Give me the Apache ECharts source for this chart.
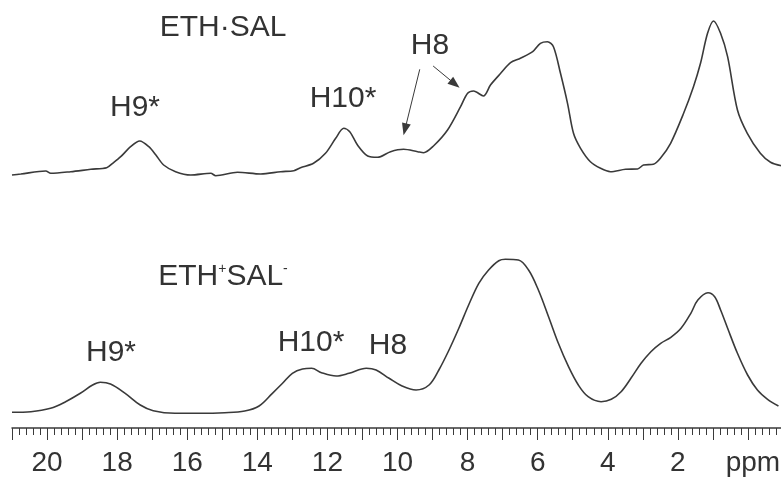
<!DOCTYPE html>
<html>
<head>
<meta charset="utf-8">
<script src="https://cdn.jsdelivr.net/npm/echarts@6/dist/echarts.min.js"></script>
<style>
  html, body { margin: 0; padding: 0; background: #fff; overflow: hidden; }
  /* a little wider than the window so the ppm axis runs off the right edge, like the original */
  #chart { width: 786px; height: 478px; }
</style>
</head>
<body>
<div id="chart"></div>
<script>
// chemical shifts (ppm) and intensities (arb. units)
var ppmTop = [21.0, 20.75, 20.04, 19.9, 19.33, 18.76, 18.31, 18.14, 17.91, 17.63, 17.37, 17.11, 16.91, 16.69, 16.35, 15.92, 15.35, 15.21, 14.59, 13.93,
  13.36, 12.99, 12.8, 12.43, 12.09, 11.8, 11.57, 11.4, 11.18, 10.89, 10.61, 10.24, 9.87, 9.47, 9.3, 9.02, 8.62, 8.25, 8.05, 7.88,
  7.6, 7.4, 7.11, 6.83, 6.55, 6.2, 5.98, 5.78, 5.61, 5.41, 5.21, 5.04, 4.84, 4.56, 4.27, 3.99, 3.56, 3.22, 3.05, 2.77,
  2.57, 2.28, 1.91, 1.63, 1.43, 1.23, 1.06, 0.86, 0.66, 0.38, 0.1, -0.27, -0.56, -0.87];
var intTop = [0, 1, 4, 1.7, 3.3, 5.7, 7.3, 11.7, 18.3, 28.3, 34, 28.3, 20, 10, 3.3, 0, 1.7, -0.7, 2.7, 1,
  3.3, 4.3, 7.3, 11.7, 21.7, 36.7, 46.7, 43.3, 30, 19, 17.7, 23.3, 25.7, 23.3, 22.3, 29, 45, 68.3, 81.7, 84,
  79, 90, 101.7, 112.3, 116.7, 123.3, 131.7, 133.3, 128.3, 101.7, 71.7, 41.7, 26.7, 13.3, 6.7, 3.3, 5.7, 6, 10, 10.7,
  16.7, 31.7, 61.7, 88.3, 111.7, 141.7, 154, 141.7, 118.3, 65, 41.7, 21.7, 12.7, 9.3];

var ppmBottom = [21.0, 20.46, 19.9, 19.47, 19.05, 18.7, 18.48, 18.19, 17.77, 17.34, 16.97, 16.35, 15.64, 14.93, 14.36, 13.95, 13.57, 13.28, 13.0, 12.71,
  12.45, 12.17, 11.75, 11.38, 10.89, 10.61, 10.24, 9.87, 9.47, 9.1, 8.82, 8.53, 8.25, 7.97, 7.68, 7.4, 7.11, 6.92, 6.55, 6.26,
  5.98, 5.69, 5.41, 5.12, 4.84, 4.56, 4.19, 3.9, 3.62, 3.34, 3.05, 2.77, 2.49, 2.2, 1.91, 1.63, 1.43, 1.14, 0.95, 0.78,
  0.58, 0.3, 0.01, -0.27, -0.56, -0.87];
var intBottom = [0.7, 1.3, 4.7, 11.3, 19.7, 28, 30.7, 29, 19.7, 8, 2.3, -0.3, -0.3, 0.3, 2, 7, 19.7, 29.7, 39.7, 44,
  44.7, 40.3, 37, 39.7, 44.7, 43, 34.7, 27, 23, 28, 43, 63, 84.7, 108, 129.7, 143, 152.3, 153.7, 153, 143,
  123, 96.3, 69.7, 46.3, 28, 16.3, 11.3, 13.7, 21.3, 34.7, 49.7, 61.3, 69.7, 75.7, 84.7, 99.7, 113, 120.3, 116.3, 103,
  84.7, 59.7, 38, 23, 13.7, 7];

// arrows pointing at H8 in the upper trace: [fromPpm, fromInt, toPpm, toInt]
var arrowsTop = [[9.41, 105.7, 9.83, 45.7], [9.03, 109, 8.41, 91]];

function pairs(xs, ys) {
  return xs.map(function (x, i) { return [x, ys[i]]; });
}

var ink = '#3a3a3a';
var font = 'Liberation Sans, Arial, sans-serif';

var chart = echarts.init(document.getElementById('chart'));

function label(text, x, y) {
  return { type: 'text', x: x, y: y, style: { text: text, font: '30px ' + font, fill: '#333', align: 'center', verticalAlign: 'middle' } };
}

var option = {
  animation: false,
  backgroundColor: '#fff',
  grid: [
    { left: 12, right: 0, top: 0, height: 190 },
    { left: 12, right: 0, top: 240, bottom: 50 }
  ],
  xAxis: [
    { gridIndex: 0, type: 'value', inverse: true, min: -1, max: 21, show: false },
    {
      gridIndex: 1, type: 'value', inverse: true, min: -1, max: 21, interval: 1,
      axisLine: { onZero: false, lineStyle: { color: ink, width: 1.5 } },
      axisTick: { length: 12, lineStyle: { color: ink, width: 1 } },
      minorTick: { show: true, splitNumber: 5, length: 7, lineStyle: { color: ink, width: 1 } },
      splitLine: { show: false },
      axisLabel: {
        margin: 21, color: '#333', fontSize: 28, fontFamily: font,
        showMinLabel: true, showMaxLabel: true,
        rich: { u: { fontSize: 28, fontFamily: font, color: '#333', padding: [0, 0, 0, 10] } },
        formatter: function (v) {
          if (v === 0) return '{u|ppm}';
          if (v > 0 && v % 2 === 0) return String(v);
          return '';
        }
      }
    }
  ],
  yAxis: [
    { gridIndex: 0, type: 'value', min: -15, max: 175, show: false },
    { gridIndex: 1, type: 'value', min: -15, max: 173, show: false }
  ],
  series: [
    {
      name: 'ETH·SAL', type: 'line', xAxisIndex: 0, yAxisIndex: 0,
      data: pairs(ppmTop, intTop), showSymbol: false, smooth: 0.3,
      lineStyle: { color: ink, width: 1.6 },
      markLine: {
        silent: true, symbol: ['none', 'triangle'], symbolSize: [9, 12],
        label: { show: false },
        lineStyle: { color: ink, width: 1, type: 'solid' },
        data: arrowsTop.map(function (a) {
          return [{ coord: [a[0], a[1]] }, { coord: [a[2], a[3]] }];
        })
      }
    },
    {
      name: 'ETH+SAL-', type: 'line', xAxisIndex: 1, yAxisIndex: 1,
      data: pairs(ppmBottom, intBottom), showSymbol: false, smooth: 0.35,
      lineStyle: { color: ink, width: 1.6 }
    }
  ],
  graphic: [
    label('ETH·SAL', 223, 28),
    label('H9*', 135, 108),
    label('H10*', 343, 99),
    label('H8', 430, 46),
    {
      type: 'text', x: 223, y: 277,
      style: {
        text: '{n|ETH}{s|+}{n|SAL}{s|-}', fill: '#333', align: 'center', verticalAlign: 'middle',
        rich: {
          n: { fontSize: 30, fontFamily: font, fill: '#333' },
          s: { fontSize: 14, fontFamily: font, fill: '#333', verticalAlign: 'top' }
        }
      }
    },
    label('H9*', 111, 353),
    label('H10*', 311, 343),
    label('H8', 388, 346)
  ]
};

chart.setOption(option);
</script>
</body>
</html>
